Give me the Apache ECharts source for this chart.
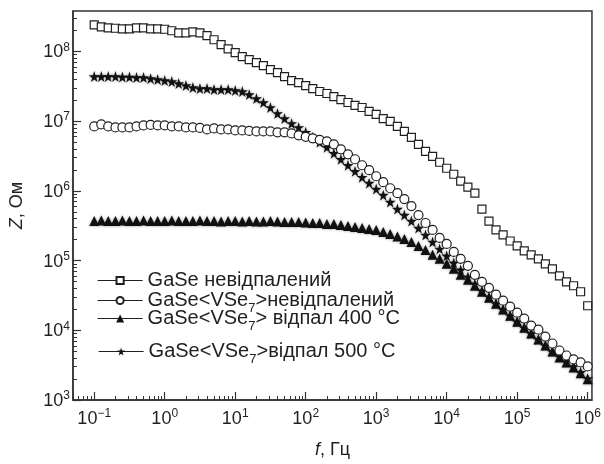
<!DOCTYPE html>
<html><head><meta charset="utf-8">
<script src="https://cdn.jsdelivr.net/npm/echarts@6/dist/echarts.min.js"></script>
<style>html,body{margin:0;padding:0;background:#fff}#c{width:604px;height:464px}</style>
</head><body><div id="c"></div>
<script>
// frequencies, Hz (10 points per decade)
const freq = [0.1,0.126,0.158,0.2,0.251,0.316,0.398,0.501,0.631,0.794,
  1,1.26,1.58,2,2.51,3.16,3.98,5.01,6.31,7.94,
  10,12.6,15.8,20,25.1,31.6,39.8,50.1,63.1,79.4,
  100,126,158,200,251,316,398,501,631,794,
  1000,1260,1580,2000,2510,3160,3980,5010,6310,7940,
  1e4,1.26e4,1.58e4,2e4,2.51e4,3.16e4,3.98e4,5.01e4,6.31e4,7.94e4,
  1e5,1.26e5,1.58e5,2e5,2.51e5,3.16e5,3.98e5,5.01e5,6.31e5,7.94e5,
  1e6];
// Z, Ohm
const zGaSe = [2.41e8,2.25e8,2.18e8,2.15e8,2.11e8,2.11e8,2.18e8,2.18e8,2.11e8,2.11e8,
  2.08e8,1.98e8,1.85e8,1.85e8,1.91e8,1.85e8,1.68e8,1.47e8,1.25e8,1.09e8,
  9.58e7,8.40e7,7.61e7,6.90e7,6.25e7,5.48e7,4.96e7,4.35e7,3.82e7,3.57e7,
  3.24e7,2.93e7,2.66e7,2.49e7,2.25e7,2.04e7,1.85e7,1.68e7,1.57e7,1.38e7,
  1.25e7,1.09e7,9.90e6,8.40e6,7.13e6,5.85e6,4.65e6,3.69e6,3.13e6,2.57e6,
  2.11e6,1.73e6,1.38e6,1.13e6,9.27e5,5.48e5,3.69e5,2.75e5,2.33e5,1.91e5,
  1.62e5,1.38e5,1.21e5,1.06e5,8.98e4,7.61e4,6.05e4,4.96e4,4.35e4,3.57e4,
  2.25e4];
const zVSeRaw = [8.40e6,8.97e6,8.40e6,8.13e6,8.13e6,8.13e6,8.40e6,8.68e6,8.83e6,8.68e6,
  8.68e6,8.40e6,8.40e6,8.13e6,8.13e6,8.00e6,7.61e6,7.86e6,7.61e6,7.61e6,
  7.36e6,7.36e6,7.24e6,7.13e6,7.13e6,7.13e6,6.90e6,6.90e6,6.67e6,6.25e6,
  5.95e6,5.66e6,5.39e6,5.13e6,4.65e6,3.94e6,3.34e6,2.84e6,2.33e6,1.98e6,
  1.62e6,1.33e6,1.09e6,9.27e5,7.61e5,6.05e5,4.50e5,3.46e5,2.75e5,2.11e5,
  1.73e5,1.33e5,1.06e5,8.40e4,6.25e4,4.96e4,4.07e4,3.24e4,2.66e4,2.18e4,
  1.79e4,1.47e4,1.17e4,1.02e4,8.13e3,6.46e3,5.13e3,4.35e3,3.82e3,3.46e3,
  3.03e3];
const zVSe400 = [3.69e5,3.76e5,3.69e5,3.69e5,3.76e5,3.69e5,3.69e5,3.76e5,3.69e5,3.69e5,
  3.69e5,3.76e5,3.69e5,3.69e5,3.69e5,3.76e5,3.69e5,3.69e5,3.63e5,3.69e5,
  3.69e5,3.63e5,3.69e5,3.63e5,3.63e5,3.69e5,3.63e5,3.57e5,3.57e5,3.57e5,
  3.51e5,3.46e5,3.46e5,3.34e5,3.34e5,3.24e5,3.13e5,3.03e5,2.93e5,2.84e5,
  2.75e5,2.57e5,2.41e5,2.22e5,2.04e5,1.85e5,1.62e5,1.42e5,1.21e5,1.06e5,
  8.98e4,7.61e4,6.25e4,5.30e4,4.35e4,3.57e4,2.93e4,2.41e4,1.98e4,1.62e4,
  1.33e4,1.09e4,8.97e3,7.36e3,6.05e3,4.96e3,4.07e3,3.46e3,2.93e3,2.41e3,
  1.98e3];
const zVSe500 = [4.35e7,4.35e7,4.35e7,4.35e7,4.28e7,4.28e7,4.21e7,4.21e7,4.07e7,3.94e7,
  3.82e7,3.69e7,3.46e7,3.24e7,3.03e7,2.93e7,2.93e7,2.84e7,2.84e7,2.84e7,
  2.75e7,2.66e7,2.41e7,2.11e7,1.85e7,1.57e7,1.29e7,1.09e7,9.27e6,8.13e6,
  6.90e6,5.85e6,4.96e6,4.21e6,3.46e6,2.84e6,2.33e6,1.91e6,1.57e6,1.29e6,
  1.06e6,8.68e5,6.90e5,5.48e5,4.50e5,3.69e5,2.93e5,2.33e5,1.85e5,1.47e5,
  1.17e5,9.27e4,7.36e4,5.85e4,4.65e4,3.69e4,3.03e4,2.41e4,1.98e4,1.62e4,
  1.33e4,1.09e4,8.97e3,7.36e3,6.05e3,4.96e3,4.21e3,3.57e3,3.03e3,2.49e3,
  2.04e3];
const seriesNames = ['GaSe невідпалений','GaSe<VSe7>невідпалений','GaSe<VSe7> відпал 400 °C','GaSe<VSe7>відпал 500 °C'];
const xMajor = [0.1,1,10,100,1000,1e4,1e5,1e6];
const xLabelExp = ['−1','0','1','2','3','4','5','6'];
const yMajor = [1e3,1e4,1e5,1e6,1e7,1e8];
const yLabelExp = ['3','4','5','6','7','8'];
const xMin = 0.05, xMax = 1.15e6, yMin = 1e3, yMax = 3.8e8;

const INK = '#231f20';
const FONT = '"Liberation Sans", Arial, sans-serif';
const starPath = 'path://M50,0 L61,35 L98,35 L68,57 L79,91 L50,70 L21,91 L32,57 L2,35 L39,35 Z';

function minorTicks(lo, hi){
  const out = [];
  for (let e = -3; e <= 9; e++) for (let m = 2; m <= 9; m++) {
    const v = m * Math.pow(10, e);
    if (v >= lo && v <= hi) out.push(v);
  }
  return out;
}
function expLabel(majors, exps){
  return function(v){
    for (let i = 0; i < majors.length; i++) {
      if (Math.abs(Math.log10(majors[i]) - Math.log10(v)) < 1e-6) return '{b|10}{s|' + exps[i] + '}';
    }
    return '';
  };
}
const labelRich = {
  b: {fontSize: 18, fontFamily: FONT, color: INK, verticalAlign: 'bottom'},
  s: {fontSize: 12, fontFamily: FONT, color: INK, verticalAlign: 'bottom', padding: [0,0,8,0]}
};
const pairs = arr => freq.map((f, i) => [f, arr[i]]);

const legendRich = {
  sub: {fontSize: 13, fontFamily: FONT, color: INK, verticalAlign: 'bottom', lineHeight: 29}
};
function legendAt(name, top, left, ih){
  return {
    data: [name], top: top, left: left, padding: 0, itemWidth: 45, itemHeight: ih,
    icon: 'inherit',
    lineStyle: {width: 1.2, color: INK, opacity: 1},
    textStyle: {fontSize: 20, fontFamily: FONT, color: INK, lineHeight: 23, rich: legendRich},
    formatter: n => n.replace('VSe7', 'VSe{sub|7}')
  };
}

const chart = echarts.init(document.getElementById('c'), null, {renderer: 'canvas'});
chart.setOption({
  animation: false,
  backgroundColor: '#fff',
  grid: {left: 70, right: 12, top: 11, bottom: 62, show: true, borderColor: '#333', borderWidth: 1.5, containLabel: false},
  legend: [
    legendAt(seriesNames[0], 269, 97, 9),
    legendAt(seriesNames[1], 286, 97, 9),
    legendAt(seriesNames[2], 304, 97, 10),
    legendAt(seriesNames[3], 337, 98, 10)
  ],
  xAxis: [{
    type: 'log', min: xMin, max: xMax, position: 'bottom',
    name: '{i|f}, Гц', nameLocation: 'middle', nameGap: 41,
    nameTextStyle: {fontSize: 18, fontFamily: FONT, color: INK, rich: {i: {fontStyle: 'italic', fontSize: 18, fontFamily: FONT, color: INK}}},
    axisLine: {show: true, lineStyle: {color: '#333', width: 1.5}},
    axisTick: {show: true, inside: true, length: 8, customValues: xMajor, lineStyle: {color: '#333', width: 1.2}},
    axisLabel: {show: true, margin: 8, customValues: xMajor, formatter: expLabel(xMajor, xLabelExp), rich: labelRich},
    splitLine: {show: false}
  }, {
    type: 'log', min: xMin, max: xMax, position: 'bottom', offset: 0,
    axisLine: {show: false},
    axisTick: {show: true, inside: true, length: 4, customValues: minorTicks(xMin, xMax), lineStyle: {color: '#333', width: 1}},
    axisLabel: {show: false},
    splitLine: {show: false}
  }],
  yAxis: [{
    type: 'log', min: yMin, max: yMax, position: 'left',
    name: '{i|Z}, Ом', nameLocation: 'middle', nameGap: 47, nameRotate: 90,
    nameTextStyle: {fontSize: 18, fontFamily: FONT, color: INK, rich: {i: {fontStyle: 'italic', fontSize: 18, fontFamily: FONT, color: INK}}},
    axisLine: {show: true, lineStyle: {color: '#333', width: 1.5}},
    axisTick: {show: true, inside: true, length: 8, customValues: yMajor, lineStyle: {color: '#333', width: 1.2}},
    axisLabel: {show: true, margin: 3, customValues: yMajor, formatter: expLabel(yMajor, yLabelExp), rich: labelRich},
    splitLine: {show: false}
  }, {
    type: 'log', min: yMin, max: yMax, position: 'left', offset: 0,
    axisLine: {show: false},
    axisTick: {show: true, inside: true, length: 4, customValues: minorTicks(yMin, yMax), lineStyle: {color: '#333', width: 1}},
    axisLabel: {show: false},
    splitLine: {show: false}
  }],
  series: [
    {name: seriesNames[2], type: 'line', xAxisIndex: 0, yAxisIndex: 0, data: pairs(zVSe400),
     symbol: 'triangle', symbolSize: 10, showSymbol: true, lineStyle: {width: 0},
     itemStyle: {color: '#111', borderColor: '#111', borderWidth: 0, shadowBlur: 3, shadowColor: 'rgba(0,0,0,0.35)'}, z: 2},
    {name: seriesNames[3], type: 'line', xAxisIndex: 0, yAxisIndex: 0, data: pairs(zVSe500),
     symbol: starPath, symbolSize: 11, showSymbol: true, lineStyle: {width: 0},
     itemStyle: {color: '#111', borderColor: '#111', borderWidth: 0, shadowBlur: 3, shadowColor: 'rgba(0,0,0,0.35)'}, z: 3},
    {name: seriesNames[1], type: 'line', xAxisIndex: 0, yAxisIndex: 0, data: pairs(zVSeRaw),
     symbol: 'circle', symbolSize: 9, showSymbol: true, lineStyle: {width: 0},
     itemStyle: {color: '#fff', borderColor: INK, borderWidth: 1.2}, z: 4},
    {name: seriesNames[0], type: 'line', xAxisIndex: 0, yAxisIndex: 0, data: pairs(zGaSe),
     symbol: 'rect', symbolSize: 8, showSymbol: true, lineStyle: {width: 0},
     itemStyle: {color: '#fff', borderColor: INK, borderWidth: 1.2}, z: 5}
  ]
});
</script></body></html>
